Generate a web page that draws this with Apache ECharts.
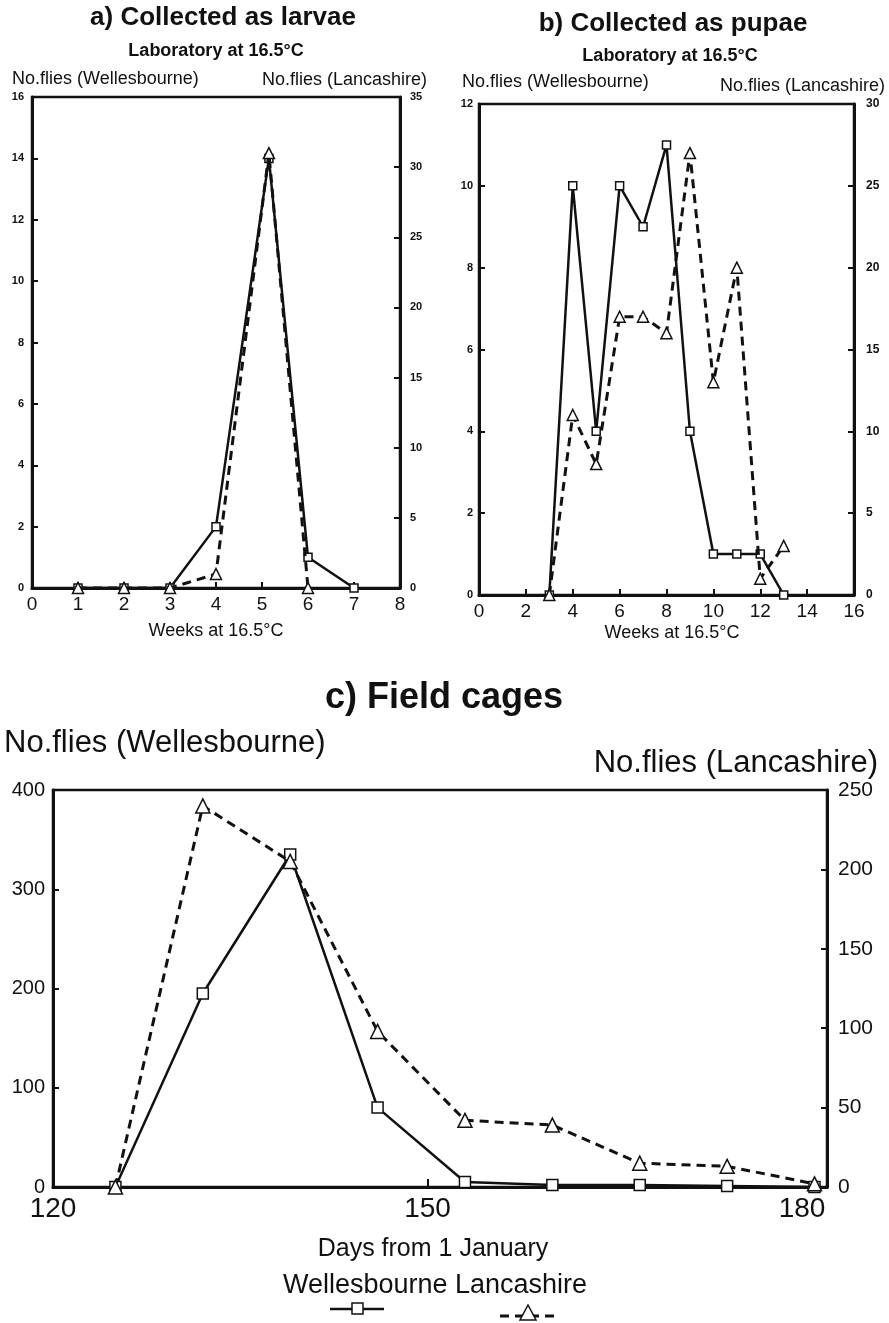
<!DOCTYPE html>
<html>
<head>
<meta charset="utf-8">
<script src="https://cdn.jsdelivr.net/npm/echarts@6/dist/echarts.min.js"></script>
<style>
html,body{margin:0;padding:0;background:#fff;}
#chart{width:889px;height:1323px;}
</style>
</head>
<body>
<div id="chart"></div>
<script>
// ---------- DATA ----------
// a) Collected as larvae (weeks at 16.5°C)
var weeksA_W = [1, 2, 3, 4, 5.15, 6, 7];
var fliesA_W = [0, 0, 0, 2, 14, 1, 0];        // Wellesbourne (left axis)
var weeksA_L = [1, 2, 3, 4, 5.15, 6];
var fliesA_L = [0, 0, 0, 1, 31, 0];           // Lancashire (right axis)

// b) Collected as pupae
var weeksB = [3, 4, 5, 6, 7, 8, 9, 10, 11, 12, 13];
var fliesB_W = [0, 10, 4, 10, 9, 11, 4, 1, 1, 1, 0];
var fliesB_L = [0, 11, 8, 17, 17, 16, 27, 13, 20, 1, 3];

// c) Field cages (days from 1 January)
var daysC = [125, 132, 139, 146, 153, 160, 167, 174, 181];
var fliesC_W = [0, 195, 335, 80, 5, 2, 2, 1, 0];
var fliesC_L = [0, 240, 205, 98, 42, 39, 15, 13, 2];

var xTicksC = [120, 150, 180];

function pairs(xs, ys) { return xs.map(function (x, i) { return [x, ys[i]]; }); }

var FONT = 'Liberation Sans';
var BLACK = '#111';

function xAxisBase(grid, min, max, interval, fs, extra) {
  var o = {
    type: 'value', gridIndex: grid, min: min, max: max, interval: interval,
    axisLine: { show: true, onZero: false, lineStyle: { color: BLACK, width: 3 } },
    axisTick: { show: true, inside: true, length: 6, lineStyle: { color: BLACK, width: 2 } },
    axisLabel: { color: BLACK, fontFamily: FONT, fontSize: fs, margin: 7 },
    splitLine: { show: false }
  };
  if (extra) { for (var k in extra) o[k] = extra[k]; }
  return o;
}
function yAxisBase(grid, pos, min, max, interval, fs, bold, margin) {
  return {
    type: 'value', gridIndex: grid, position: pos, min: min, max: max, interval: interval,
    axisLine: { show: true, onZero: false, lineStyle: { color: BLACK, width: 3 } },
    axisTick: { show: true, inside: true, length: 6, lineStyle: { color: BLACK, width: 2 } },
    axisLabel: { color: BLACK, fontFamily: FONT, fontSize: fs, fontWeight: bold ? 'bold' : 'normal', margin: margin },
    splitLine: { show: false }
  };
}
function wSeries(x, y, data, sz) {
  return {
    type: 'line', xAxisIndex: x, yAxisIndex: y, data: data, z: 3,
    symbol: 'rect', symbolSize: [sz, sz], showAllSymbol: true,
    lineStyle: { color: BLACK, width: 2.5, type: 'solid' },
    itemStyle: { color: '#fff', borderColor: BLACK, borderWidth: 1.5 },
    animation: false
  };
}
function lSeries(x, y, data, sz) {
  return {
    type: 'line', xAxisIndex: x, yAxisIndex: y, data: data, z: 4,
    symbol: 'triangle', symbolSize: [sz, sz], showAllSymbol: true,
    lineStyle: { color: BLACK, width: 3, type: [9, 6] },
    itemStyle: { color: '#fff', borderColor: BLACK, borderWidth: 1.5 },
    animation: false
  };
}
function txt(x, y, s, size, bold, align) {
  return { type: 'text', x: x, y: y, style: {
    text: s, fill: BLACK, font: (bold ? 'bold ' : '') + size + 'px "' + FONT + '"',
    textAlign: align || 'center', textVerticalAlign: 'middle' } };
}

var gridStyle = { show: true, borderColor: BLACK, borderWidth: 2.5, backgroundColor: 'transparent', outerBoundsMode: 'none', containLabel: false };
function grid(l, t, w, h) {
  var g = { left: l, top: t, width: w, height: h };
  for (var k in gridStyle) g[k] = gridStyle[k];
  return g;
}

var option = {
  backgroundColor: '#fff',
  animation: false,
  grid: [
    grid(32, 97, 368, 491),
    grid(479, 104, 375, 491),
    grid(53, 790, 774, 397)
  ],
  xAxis: [
    xAxisBase(0, 0, 8, 1, 19),
    xAxisBase(1, 0, 16, 2, 19),
    xAxisBase(2, 120, 182, 30, 28, {
      axisLabel: { color: BLACK, fontFamily: FONT, fontSize: 28, margin: 8, customValues: xTicksC },
      axisTick: { show: true, inside: true, length: 8, lineStyle: { color: BLACK, width: 2 }, customValues: [150] }
    })
  ],
  yAxis: [
    yAxisBase(0, 'left', 0, 16, 2, 11, true, 8),
    yAxisBase(0, 'right', 0, 35, 5, 11, true, 10),
    yAxisBase(1, 'left', 0, 12, 2, 11, true, 6),
    yAxisBase(1, 'right', 0, 30, 5, 12, true, 12),
    yAxisBase(2, 'left', 0, 400, 100, 20, false, 8),
    yAxisBase(2, 'right', 0, 250, 50, 21, false, 11)
  ],
  series: [
    lSeries(0, 1, pairs(weeksA_L, fliesA_L), 11),
    wSeries(0, 0, pairs(weeksA_W, fliesA_W), 8),
    lSeries(1, 3, pairs(weeksB, fliesB_L), 11),
    wSeries(1, 2, pairs(weeksB, fliesB_W), 8),
    lSeries(2, 5, pairs(daysC, fliesC_L), 14),
    wSeries(2, 4, pairs(daysC, fliesC_W), 11)
  ],
  graphic: [
    txt(223, 18, 'a) Collected as larvae', 26, true),
    txt(216, 51, 'Laboratory at 16.5°C', 18, true),
    txt(12, 79, 'No.flies (Wellesbourne)', 18, false, 'left'),
    txt(427, 80, 'No.flies (Lancashire)', 18, false, 'right'),
    txt(216, 631, 'Weeks at 16.5°C', 18, false),

    txt(673, 24, 'b) Collected as pupae', 26, true),
    txt(670, 56, 'Laboratory at 16.5°C', 18, true),
    txt(462, 82, 'No.flies (Wellesbourne)', 18, false, 'left'),
    txt(885, 86, 'No.flies (Lancashire)', 18, false, 'right'),
    txt(672, 633, 'Weeks at 16.5°C', 18, false),

    txt(444, 698, 'c) Field cages', 36, true),
    txt(4, 743, 'No.flies (Wellesbourne)', 31, false, 'left'),
    txt(878, 763, 'No.flies (Lancashire)', 31, false, 'right'),
    txt(433, 1249, 'Days from 1 January', 25, false),
    txt(435, 1286, 'Wellesbourne Lancashire', 27, false),

    // legend keys
    { type: 'line', shape: { x1: 330, y1: 1309, x2: 384, y2: 1309 }, style: { stroke: BLACK, lineWidth: 2.5 } },
    { type: 'rect', shape: { x: 352, y: 1303, width: 11, height: 11 }, style: { fill: '#fff', stroke: BLACK, lineWidth: 1.5 } },
    { type: 'line', shape: { x1: 500, y1: 1316, x2: 556, y2: 1316 }, style: { stroke: BLACK, lineWidth: 3, lineDash: [9, 6] } },
    { type: 'polygon', shape: { points: [[528, 1305], [520, 1320], [536, 1320]] }, style: { fill: '#fff', stroke: BLACK, lineWidth: 1.5 } }
  ]
};

var chart = echarts.init(document.getElementById('chart'), null, { renderer: 'canvas' });
chart.setOption(option);
</script>
</body>
</html>
